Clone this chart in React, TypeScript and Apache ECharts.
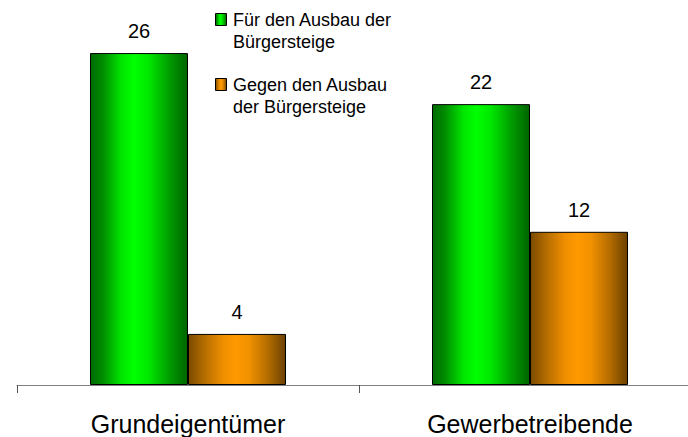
import React, { useEffect, useRef } from "react";
import * as echarts from "echarts";

const categories = ["Grundeigentümer", "Gewerbetreibende"];
const seriesNames = ["Für den Ausbau der\nBürgersteige", "Gegen den Ausbau\nder Bürgersteige"];
const forValues = [26, 22];
const againstValues = [4, 12];

const FONT = "'Liberation Sans', Arial, sans-serif";

const greenGrad = () =>
  new echarts.graphic.LinearGradient(0, 0, 1, 0, [
    { offset: 0, color: "#006a00" },
    { offset: 0.12, color: "#008a00" },
    { offset: 0.32, color: "#00e600" },
    { offset: 0.45, color: "#00ff00" },
    { offset: 0.6, color: "#00e800" },
    { offset: 0.82, color: "#009a00" },
    { offset: 1, color: "#006400" },
  ]);

const orangeGrad = () =>
  new echarts.graphic.LinearGradient(0, 0, 1, 0, [
    { offset: 0, color: "#7a4a00" },
    { offset: 0.15, color: "#b06a00" },
    { offset: 0.35, color: "#ee8e00" },
    { offset: 0.48, color: "#ff9900" },
    { offset: 0.62, color: "#f29200" },
    { offset: 0.82, color: "#b46c00" },
    { offset: 1, color: "#6a4000" },
  ]);

export default function App() {
  const ref = useRef<HTMLDivElement>(null);
  useEffect(() => {
    if (!ref.current) return;
    const chart = echarts.init(ref.current, null, { renderer: "svg" });
    const label = {
      show: true,
      position: "top",
      distance: 12,
      color: "#000",
      fontSize: 20,
      fontFamily: FONT,
    };
    chart.setOption({
      animation: false,
      grid: { left: 17, top: 2, right: 2, height: 383 },
      xAxis: {
        type: "category",
        data: categories,
        axisLine: { lineStyle: { color: "#808080", width: 1 } },
        axisTick: { show: true, length: 8, alignWithLabel: false, lineStyle: { color: "#555" } },
        axisLabel: { color: "#000", fontSize: 25, fontFamily: FONT, margin: 26 },
      },
      yAxis: { type: "value", min: 0, max: 30, show: false, splitLine: { show: false } },
      series: [
        {
          name: seriesNames[0],
          type: "bar",
          data: forValues,
          barWidth: 98,
          barGap: "0%",
          itemStyle: { color: greenGrad(), borderColor: "#000", borderWidth: 1 },
          label,
        },
        {
          name: seriesNames[1],
          type: "bar",
          data: againstValues,
          barWidth: 98,
          barGap: "0%",
          itemStyle: { color: orangeGrad(), borderColor: "#000", borderWidth: 1 },
          label,
        },
      ],
      graphic: [
        {
          type: "rect",
          left: 215,
          top: 13,
          shape: { width: 11, height: 12 },
          style: { fill: greenGrad(), stroke: "#000", lineWidth: 1 },
        },
        {
          type: "text",
          left: 233,
          top: 9,
          style: {
            text: seriesNames[0],
            fontSize: 18,
            lineHeight: 22,
            fontFamily: FONT,
            fill: "#000",
          },
        },
        {
          type: "rect",
          left: 215,
          top: 78,
          shape: { width: 11, height: 12 },
          style: { fill: orangeGrad(), stroke: "#000", lineWidth: 1 },
        },
        {
          type: "text",
          left: 233,
          top: 74,
          style: {
            text: seriesNames[1],
            fontSize: 18,
            lineHeight: 22,
            fontFamily: FONT,
            fill: "#000",
          },
        },
      ],
    });
    return () => chart.dispose();
  }, []);
  return (
    <div style={{ position: "absolute", left: 0, top: 0, width: 688, height: 437, overflow: "hidden" }}>
      <div ref={ref} style={{ width: 703, height: 437 }} />
    </div>
  );
}
